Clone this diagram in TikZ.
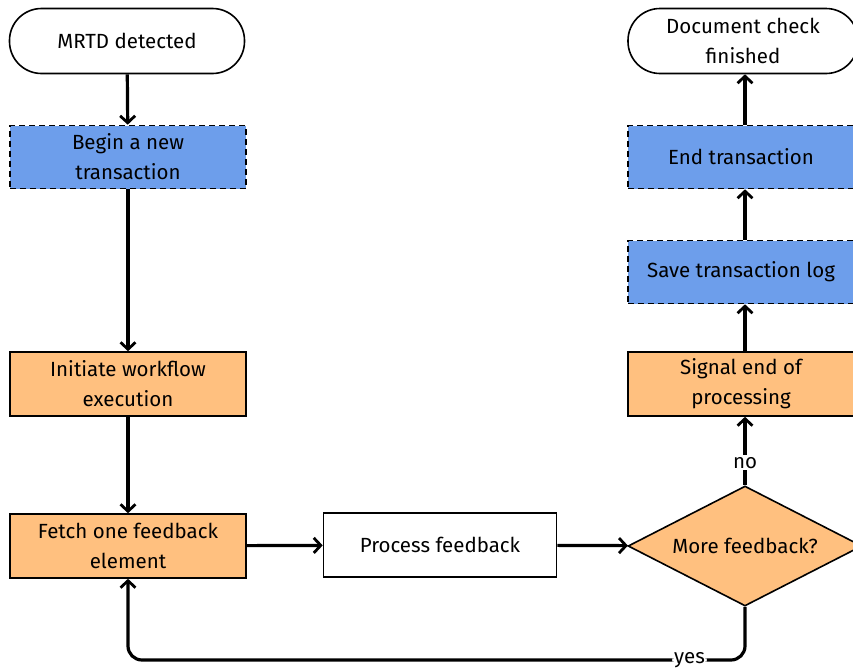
\documentclass[tikz,border=0pt]{standalone}
\usepackage{fontspec}
\setmainfont{Fira Sans}
\usetikzlibrary{shapes.geometric,arrows.meta}
\definecolor{bluebox}{HTML}{6D9EEB}
\definecolor{orangebox}{HTML}{FFC07F}
\begin{document}
\begin{tikzpicture}[x=1pt,y=-1pt,
  every node/.style={font=\fontsize{20.5}{30}\selectfont, align=center},
  term/.style={draw, line width=1.6pt, rounded corners=32pt, minimum width=235pt, minimum height=65pt, fill=white},
  bluestep/.style={draw, dash pattern=on 6pt off 4pt, line width=1.6pt, fill=bluebox, minimum width=236pt, minimum height=63pt},
  orangestep/.style={draw, line width=1.6pt, fill=orangebox, minimum width=236pt, minimum height=64pt},
  whitestep/.style={draw, line width=1.6pt, fill=white, minimum width=233pt, minimum height=64pt},
  decision/.style={draw, diamond, line width=1.6pt, fill=orangebox, minimum width=234pt, minimum height=120pt, aspect=1.95, inner sep=0pt},
  conn/.style={line width=3.2pt, -{Straight Barb[length=7pt,width=15pt,line width=2.8pt]}},
  lbl/.style={fill=white, inner sep=2pt, font=\fontsize{20.5}{22}\selectfont}
]
\useasboundingbox (0,0) rectangle (853,670);
\node[term] (start) at (127,41) {MRTD detected};
\node[bluestep] (begin) at (128,157) {Begin a new\\transaction};
\node[orangestep] (init) at (128,384) {Initiate workflow\\execution};
\node[orangestep] (fetch) at (128,546) {Fetch one feedback\\element};
\node[whitestep] (proc) at (440,545) {Process feedback};
\node[decision] (more) at (745,546) {More feedback?};
\node[orangestep, minimum width=226pt] (signal) at (741,384) {Signal end of\\processing};
\node[bluestep, minimum width=226pt] (save) at (741,272) {Save transaction log};
\node[bluestep, minimum width=226pt] (endt) at (741,157) {End transaction};
\node[term, minimum width=230pt] (finish) at (743,41) {Document check\\finished};

\draw[conn] (start) -- (begin);
\draw[conn] (begin) -- (init);
\draw[conn] (init) -- (fetch);
\draw[conn] (fetch) -- (proc);
\draw[conn] (proc) -- (more);
\draw[conn] (more.north) -- node[lbl, pos=0.33] {no} (signal.south -| more.north);
\draw[conn] (signal.north -| more.north) -- (save.south -| more.north);
\draw[conn] (save.north -| more.north) -- (endt.south -| more.north);
\draw[conn] (endt.north -| more.north) -- (finish.south -| more.north);
\coordinate (c1) at (745,660);
\coordinate (c2) at (128,660);
\draw[conn, rounded corners=14pt] (more.south) -- (c1) -- node[lbl, pos=0.09] {yes} (c2) -- (fetch.south);
\end{tikzpicture}
\end{document}
